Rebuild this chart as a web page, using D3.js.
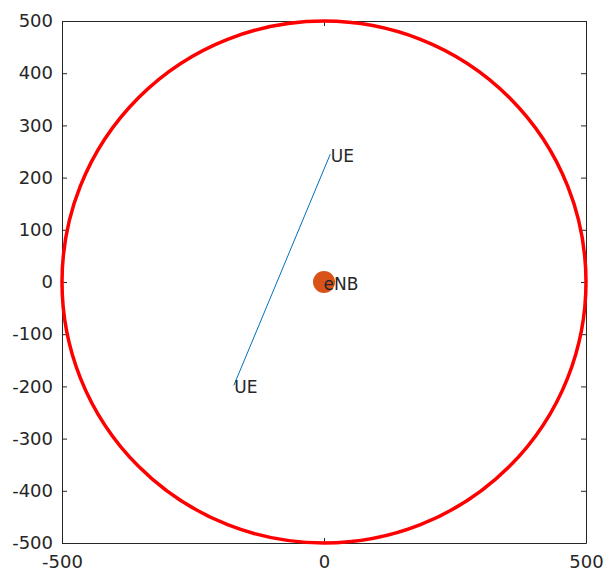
<!DOCTYPE html>
<html>
<head>
<meta charset="utf-8">
<script src="https://cdn.jsdelivr.net/npm/d3@7"></script>
<style>
  body { margin: 0; background: #fff; }
  text { font-family: "DejaVu Sans", sans-serif; }
</style>
</head>
<body>
<svg id="chart"></svg>
<script>
// cell data
const cellCenter = [0, 0];
const cellRadius = 500;
const ueX = [12, -172];
const ueY = [245, -198];
const ueLabels = ["UE", "UE"];
const enbLabel = "eNB";
const xTicks = [-500, 0, 500];
const yTicks = [-500, -400, -300, -200, -100, 0, 100, 200, 300, 400, 500];

const width = 603, height = 572;
const margin = { left: 62, right: 17, top: 21, bottom: 29 };

const svg = d3.select("#chart").attr("width", width).attr("height", height);

const x = d3.scaleLinear().domain([-500, 500]).range([margin.left, width - margin.right]);
const y = d3.scaleLinear().domain([-500, 500]).range([height - margin.bottom, margin.top]);

const axisColor = "#262626";
const fmt = d => String(d); // plain hyphen minus like the original

function styleAxis(g) {
  g.selectAll("path.domain").attr("stroke", axisColor).attr("stroke-width", 1);
  g.selectAll(".tick line").attr("stroke", axisColor);
  g.selectAll(".tick text").attr("fill", axisColor).style("font-size", "18px")
    .style("font-family", "DejaVu Sans, sans-serif");
}

// axes (box with mirrored inward ticks)
svg.append("g")
  .attr("transform", `translate(0,${y(-500)})`)
  .call(d3.axisBottom(x).tickValues(xTicks).tickFormat(fmt).tickSize(-5).tickSizeOuter(0).tickPadding(12))
  .call(styleAxis);
svg.append("g")
  .attr("transform", `translate(0,${y(500)})`)
  .call(d3.axisTop(x).tickValues(xTicks).tickSize(-5).tickSizeOuter(0).tickFormat(""))
  .call(styleAxis);
svg.append("g")
  .attr("transform", `translate(${x(-500)},0)`)
  .call(d3.axisLeft(y).tickValues(yTicks).tickFormat(fmt).tickSize(-5).tickSizeOuter(0).tickPadding(9))
  .call(styleAxis);
svg.append("g")
  .attr("transform", `translate(${x(500)},0)`)
  .call(d3.axisRight(y).tickValues(yTicks).tickSize(-5).tickSizeOuter(0).tickFormat(""))
  .call(styleAxis);

// cell boundary
svg.append("ellipse")
  .attr("cx", x(cellCenter[0]))
  .attr("cy", y(cellCenter[1]))
  .attr("rx", x(cellRadius) - x(0))
  .attr("ry", y(0) - y(cellRadius))
  .attr("fill", "none")
  .attr("stroke", "#ff0000")
  .attr("stroke-width", 3.5);

// UE link
const ues = ueX.map((d, i) => ({ x: d, y: ueY[i], label: ueLabels[i] }));
svg.append("path")
  .datum(ues)
  .attr("d", d3.line().x(d => x(d.x)).y(d => y(d.y)))
  .attr("fill", "none")
  .attr("stroke", "#0072BD")
  .attr("stroke-width", 1);

// eNB
svg.append("circle")
  .attr("cx", x(cellCenter[0]))
  .attr("cy", y(cellCenter[1]))
  .attr("r", 11)
  .attr("fill", "#D95319");

svg.selectAll("text.ue")
  .data(ues)
  .enter()
  .append("text")
  .attr("class", "ue")
  .attr("x", d => x(d.x) + 0.5)
  .attr("y", d => y(d.y))
  .attr("dy", "0.45em")
  .attr("fill", "#262626")
  .style("font-size", "17px")
  .text(d => d.label);

svg.append("text")
  .attr("x", x(cellCenter[0]) - 0.5)
  .attr("y", y(cellCenter[1]))
  .attr("dy", "0.45em")
  .attr("fill", "#262626")
  .style("font-size", "17px")
  .text(enbLabel);
</script>
</body>
</html>
